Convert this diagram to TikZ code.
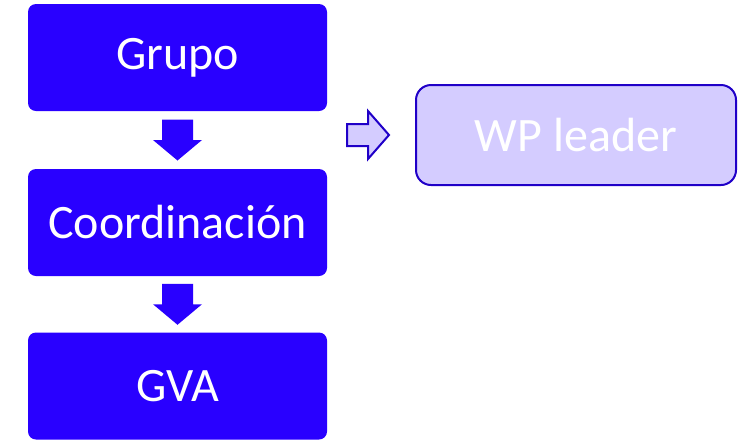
\documentclass[tikz,border=0pt]{standalone}
\usepackage{fontspec}
\setmainfont{Carlito}
\usetikzlibrary{calc}
\definecolor{mainblue}{HTML}{2900FF}
\definecolor{lightfill}{HTML}{D4CCFF}
\definecolor{darkline}{HTML}{2000C8}
\tikzset{
  bluebox/.style={rectangle, rounded corners=8pt, fill=mainblue, text=white,
    minimum width=299pt, minimum height=107pt, inner sep=0pt,
    font=\fontsize{48}{56}\selectfont},
  wpbox/.style={rectangle, rounded corners=15pt, fill=lightfill, draw=darkline,
    line width=2pt, text=white, minimum width=320pt, minimum height=100pt,
    inner sep=0pt, font=\fontsize{48}{56}\selectfont},
  downarrow/.pic={\fill[mainblue] (-15.5,20.5) -- (15.5,20.5) -- (15.5,0) -- (24.5,0)
     -- (0,-20.5) -- (-24.5,0) -- (-15.5,0) -- cycle;},
  rightarrow/.pic={\filldraw[fill=lightfill, draw=darkline, line width=2pt, line join=miter]
     (-21,11) -- (0,11) -- (0,24) -- (21,0) -- (0,-24) -- (0,-11) -- (-21,-11) -- cycle;}
}
\begin{document}
\begin{tikzpicture}[x=1pt,y=1pt]
\useasboundingbox (0,0) rectangle (738,-440);
\node[bluebox] (g) at (177.5,-57.5) {Grupo};
\node[bluebox] (c) at (177.5,-222.5) {Coordinación};
\node[bluebox] (v) at (177.5,-386) {GVA};
\node[wpbox] (w) at (576,-135) {WP leader};
\coordinate (m1) at ($(g.south)!0.5!(c.north)$);
\coordinate (m2) at ($(c.south)!0.5!(v.north)$);
\coordinate (m3) at ([xshift=-47pt]w.west);
\pic at (m1) {downarrow};
\pic at (m2) {downarrow};
\pic at (m3) {rightarrow};
\end{tikzpicture}
\end{document}
